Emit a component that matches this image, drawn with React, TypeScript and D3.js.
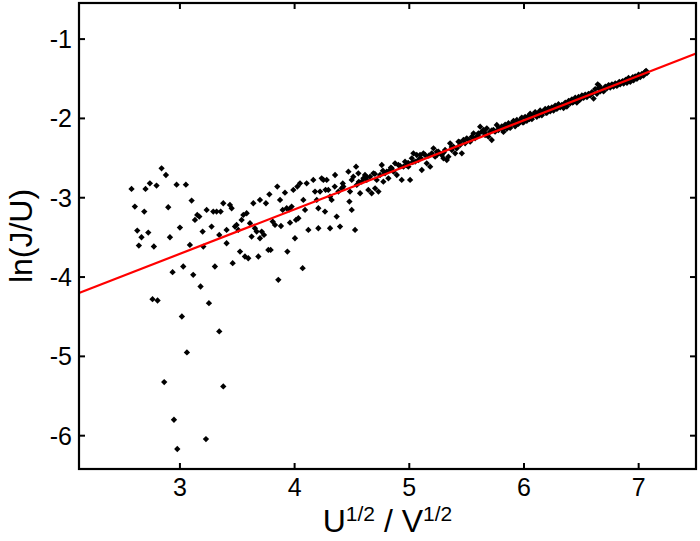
import React from 'react';
import * as d3 from 'd3';

// measured points, x = U^1/2 / V^1/2, y = ln(J/U)
const xs: number[] = [
  2.578, 2.607, 2.628, 2.642, 2.665, 2.689, 2.700, 2.724, 2.738, 2.773, 2.796, 2.840, 2.878, 2.898, 2.913, 2.971,
  3.000, 3.052, 3.102, 3.087, 2.936, 3.029, 3.116, 3.131, 3.151, 3.169, 3.180, 3.198, 3.204, 3.233, 3.253, 3.276,
  3.291, 3.305, 3.320, 3.343, 3.355, 3.378, 3.407, 3.407, 3.436, 3.451, 3.460, 3.480, 3.494, 3.509, 3.524, 3.538,
  3.553, 3.567, 3.582, 3.596, 3.611, 3.625, 3.640, 3.654, 3.669, 3.684, 3.698, 3.698, 3.713, 3.733, 3.750, 3.771,
  3.780, 3.791, 3.809, 3.829, 3.849, 3.858, 3.873, 3.881, 3.896, 3.916, 3.931, 3.937, 3.954, 3.960, 3.974, 3.989,
  4.003, 4.012, 4.024, 4.033, 4.047, 4.070, 4.076, 4.091, 4.105, 4.120,
  2.761, 2.805, 2.863, 2.948, 2.977, 3.017, 3.061, 3.227, 3.343, 3.378,
  4.163, 4.178, 4.193, 4.207, 4.207, 4.222, 4.236, 4.251, 4.265, 4.280, 4.294, 4.309, 4.309, 4.323, 4.353, 4.367,
  4.382, 4.396, 4.411, 4.425, 4.469, 4.478, 4.483, 4.498, 4.498, 4.512, 4.527, 4.536, 4.542, 4.556, 4.571, 4.585,
  4.600, 4.614, 4.629, 4.643, 4.658, 4.672, 4.687, 4.702, 4.716, 4.731, 4.745, 4.760, 4.774, 4.789, 4.803, 4.818,
  4.832, 4.847, 4.862, 4.876, 4.891, 4.905, 4.934, 4.949, 4.963, 4.978, 4.992, 5.007, 5.022, 5.036, 5.051, 5.065,
  5.080, 5.094, 5.109, 5.123, 5.138, 5.152, 5.182, 5.196, 5.211, 5.225, 5.240, 5.254, 5.283, 5.298, 5.312, 5.327,
  5.341, 5.356, 5.371, 5.385, 5.400, 5.414, 5.429, 5.443, 5.458, 5.472, 5.487, 5.501, 5.531, 5.545, 5.560, 5.574,
  5.589, 5.603, 5.618, 5.632, 5.647, 5.661, 5.676, 5.690, 5.705, 5.719, 5.734, 5.748, 5.763, 5.777,
  5.03, 5.10, 5.17, 5.24, 5.30, 5.37, 5.44, 5.52, 5.60, 5.66, 5.72, 5.78,
  4.56, 4.63, 4.70, 4.77, 4.84, 4.92, 4.99, 4.35, 4.42, 4.27,
  5.807, 5.821, 5.836, 5.850, 5.865, 5.880, 5.894, 5.909, 5.923, 5.938, 5.952, 5.967, 5.981, 5.996, 6.010, 6.025,
  6.039, 6.054, 6.069, 6.083, 6.098, 6.112, 6.127, 6.141, 6.156, 6.170, 6.185, 6.200, 6.214, 6.229, 6.243, 6.258,
  6.272, 6.287, 6.301, 6.316, 6.330, 6.345, 6.360, 6.374, 6.389, 6.403, 6.418, 6.432, 6.447, 6.461, 6.476, 6.490,
  6.505, 6.520, 6.534, 6.549, 6.563, 6.578, 6.592, 6.607, 6.621, 6.636, 6.651, 6.665, 6.679, 6.694, 6.709, 6.723,
  6.738, 6.752, 6.767, 6.781, 6.796, 6.810, 6.825, 6.839, 6.854, 6.869, 6.883, 6.898, 6.912, 6.927, 6.941, 6.956,
  6.970, 6.985, 6.999, 7.014, 7.028, 7.043, 7.058, 7.072,
  5.814, 5.843, 5.872, 5.901, 5.930, 5.960, 5.989, 6.018, 6.047, 6.076, 6.105, 6.134, 6.163, 6.192, 6.221, 6.250,
  6.280, 6.309, 6.338, 6.367, 6.396, 6.425, 6.454, 6.483, 6.512, 6.541, 6.570, 6.600, 6.643, 6.658, 6.687, 6.716,
  6.745, 6.774, 6.803, 6.832, 6.861, 6.890, 6.920, 6.949, 6.978, 7.007, 7.036, 7.065,
];

const ys: number[] = [
  -2.889, -3.112, -3.414, -3.603, -3.498, -3.175, -2.889, -3.439, -2.818, -3.615, -2.847, -2.629, -2.713, -3.120, -3.498, -2.835,
  -3.376, -2.835, -3.036, -3.595, -3.939, -3.867, -3.972, -3.280, -3.217, -3.238, -4.119, -3.427, -3.616, -3.154, -4.329, -3.364,
  -3.175, -3.867, -3.175, -3.469, -3.175, -3.070, -3.574, -3.406, -3.091, -3.133, -3.825, -3.364, -3.343, -3.406, -3.679, -3.280,
  -3.217, -3.741, -3.196, -3.763, -3.322, -3.490, -3.070, -3.385, -3.427, -3.741, -3.028, -3.511, -3.427, -3.469, -3.070, -3.658,
  -2.957, -3.658, -3.301, -3.343, -2.860, -4.035, -3.028, -3.356, -3.154, -2.936, -3.133, -3.679, -3.146, -3.314, -3.112, -2.902,
  -3.511, -3.280, -2.860, -3.259, -2.818, -3.888, -3.028, -3.154, -2.818, -3.406,
  -4.279, -4.296, -5.324, -5.799, -6.168, -4.497, -4.950, -6.043, -4.686, -5.379,
  -2.776, -2.923, -3.028, -3.133, -3.385, -2.923, -2.755, -2.776, -3.175, -2.776, -2.902, -2.986, -3.385, -3.028, -2.713, -3.238,
  -2.923, -3.364, -2.881, -2.860, -2.671, -3.049, -2.923, -2.776, -3.154, -2.734, -3.406, -2.608, -2.839, -2.692, -2.944, -2.797,
  -2.755, -2.713, -2.776, -2.902, -2.734, -2.944, -2.692, -2.881, -2.776, -2.923, -2.713, -2.587, -2.797, -2.692, -2.671, -2.755,
  -2.650, -2.629, -2.671, -2.566, -2.713, -2.587, -2.776, -2.608, -2.545, -2.587, -2.608, -2.776, -2.503, -2.440, -2.545, -2.461,
  -2.524, -2.461, -2.650, -2.440, -2.461, -2.566, -2.608, -2.440, -2.377, -2.482, -2.461, -2.419, -2.461, -2.503, -2.398, -2.524,
  -2.482, -2.314, -2.398, -2.356, -2.440, -2.377, -2.293, -2.335, -2.440, -2.272, -2.314, -2.251, -2.293, -2.230, -2.188, -2.251,
  -2.230, -2.188, -2.104, -2.167, -2.146, -2.209, -2.125, -2.230, -2.167, -2.272, -2.146, -2.167, -2.083, -2.146,
  -2.55, -2.50, -2.47, -2.42, -2.43, -2.36, -2.30, -2.27, -2.21, -2.18, -2.15, -2.12,
  -2.80, -2.74, -2.70, -2.66, -2.62, -2.60, -2.56, -2.86, -2.82, -2.90,
  -2.10, -2.17, -2.08, -2.13, -2.06, -2.12, -2.07, -2.03, -2.10, -2.02, -2.07, -2.04, -1.99, -2.05, -1.98, -2.03,
  -1.97, -1.94, -2.01, -1.95, -1.92, -1.98, -1.93, -1.90, -1.96, -1.91, -1.88, -1.93, -1.87, -1.91, -1.86, -1.90,
  -1.84, -1.88, -1.82, -1.86, -1.83, -1.87, -1.80, -1.85, -1.78, -1.81, -1.76, -1.79, -1.74, -1.80, -1.73, -1.76,
  -1.71, -1.74, -1.70, -1.73, -1.69, -1.71, -1.67, -1.75, -1.63, -1.69, -1.62, -1.66, -1.63, -1.66, -1.60, -1.62,
  -1.58, -1.61, -1.57, -1.60, -1.56, -1.59, -1.55, -1.57, -1.54, -1.56, -1.52, -1.55, -1.49, -1.54, -1.50, -1.52,
  -1.47, -1.50, -1.45, -1.48, -1.44, -1.46, -1.41, -1.43,
  -2.14, -2.09, -2.11, -2.05, -2.08, -2.03, -2.05, -2.00, -2.01, -1.97, -1.95, -1.96, -1.92, -1.93, -1.89, -1.87,
  -1.87, -1.84, -1.84, -1.82, -1.79, -1.80, -1.76, -1.77, -1.72, -1.72, -1.70, -1.68, -1.57, -1.59, -1.64, -1.61,
  -1.59, -1.58, -1.57, -1.54, -1.53, -1.51, -1.52, -1.48, -1.49, -1.46, -1.45, -1.40,
];

// linear fit ln(J/U) = a + b * x
const fitIntercept = -5.39;
const fitSlope = 0.561;

const xTicks = [3, 4, 5, 6, 7];
const yTicks = [-1, -2, -3, -4, -5, -6];

const W = 700;
const H = 541;
const m = { left: 79, right: 4, top: 3, bottom: 72 };

export default function App() {
  const x = d3.scaleLinear().domain([2.12, 7.5]).range([m.left, W - m.right]);
  const y = d3.scaleLinear().domain([-6.42, -0.545]).range([H - m.bottom, m.top]);
  const [x0, x1] = x.range();
  const [y0, y1] = y.range();

  const fitLine = d3.line<number>()
    .x(d => x(d))
    .y(d => y(fitIntercept + fitSlope * d))(x.domain());

  const marker = d3.symbol().type(d3.symbolSquare).size(20)()!;
  const font = 'Liberation Sans, Arial, sans-serif';

  return (
    <svg width={W} height={H} style={{ position: 'absolute', left: 0, top: 0, background: '#fff' }}
      fontFamily={font}>
      <rect x={0} y={0} width={W} height={H} fill="#fff" />
      <g>
        {xs.map((d, i) => (
          <path key={i} d={marker} fill="#000"
            transform={`translate(${x(d)},${y(ys[i])}) rotate(45)`} />
        ))}
      </g>
      <path d={fitLine ?? ''} stroke="#ff0000" strokeWidth={2.2} fill="none" />
      <rect x={x0} y={y1} width={x1 - x0} height={y0 - y1} fill="none" stroke="#000" strokeWidth={2.2} />
      {xTicks.map(t => (
        <g key={t}>
          <line x1={x(t)} x2={x(t)} y1={y0} y2={y0 - 6} stroke="#000" strokeWidth={2} />
          <line x1={x(t)} x2={x(t)} y1={y1} y2={y1 + 6} stroke="#000" strokeWidth={2} />
          <text x={x(t)} y={y0 + 27} fontSize={25} textAnchor="middle">{t}</text>
        </g>
      ))}
      {yTicks.map(t => (
        <g key={t}>
          <line x1={x0} x2={x0 + 6} y1={y(t)} y2={y(t)} stroke="#000" strokeWidth={2} />
          <line x1={x1} x2={x1 - 6} y1={y(t)} y2={y(t)} stroke="#000" strokeWidth={2} />
          <text x={x0 - 7} y={y(t)} fontSize={25} textAnchor="end" dominantBaseline="central">{t}</text>
        </g>
      ))}
      <text x={(x0 + x1) / 2} y={H - 9} fontSize={32} textAnchor="middle">
        U<tspan fontSize={21} dy={-11}>1/2</tspan><tspan dy={11}> / V</tspan><tspan fontSize={21} dy={-11}>1/2</tspan>
      </text>
      <text transform={`translate(32,${(y0 + y1) / 2}) rotate(-90)`} fontSize={32} textAnchor="middle">ln(J/U)</text>
    </svg>
  );
}
